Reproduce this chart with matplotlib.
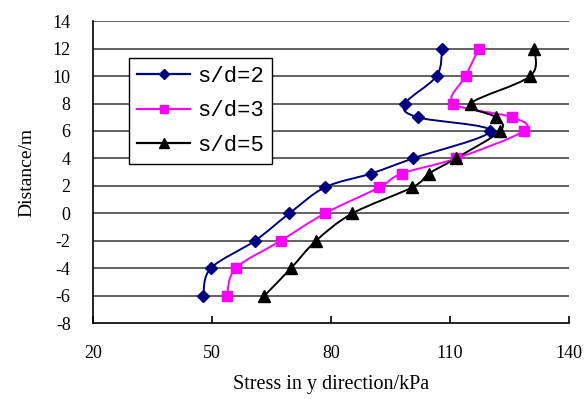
import matplotlib
matplotlib.use("Agg")
import matplotlib.pyplot as plt
import numpy as np
from matplotlib.path import Path
from matplotlib.patches import PathPatch
from matplotlib.lines import Line2D

plt.rcParams['font.family'] = ['Liberation Serif', 'DejaVu Serif']
plt.rcParams['axes.unicode_minus'] = False

# dados
distancia = [12, 10, 8, 7, 6, 4, 2.9, 1.9, 0, -2, -4, -6]
tensao_sd2 = [108.0, 106.6, 98.7, 101.8, 120.1, 100.6, 90.1, 78.5, 69.5, 60.8, 49.7, 47.8]
tensao_sd3 = [117.3, 113.9, 110.8, 125.7, 128.5, 111.5, 97.8, 92.2, 78.5, 67.3, 56.0, 53.8]
tensao_sd5 = [131.2, 130.2, 115.2, 121.5, 122.6, 111.4, 104.7, 100.5, 85.4, 76.2, 69.9, 63.2]
rotulos = ["s/d=2", "s/d=3", "s/d=5"]

x_ticks = [20, 50, 80, 110, 140]
y_ticks = list(range(-8, 15, 2))


def curva_suave(ax, xs, ys, cor):
    # linha suavizada (estilo Excel) com curvas de Bezier
    p = np.column_stack([xs, ys]).astype(float)
    n = len(p)
    verts = [p[0]]
    codes = [Path.MOVETO]
    for i in range(n - 1):
        p0 = p[i - 1] if i > 0 else p[i]
        p3 = p[i + 2] if i + 2 < n else p[i + 1]
        c1 = p[i] + (p[i + 1] - p0) / 6.0
        c2 = p[i + 1] - (p3 - p[i]) / 6.0
        verts += [c1, c2, p[i + 1]]
        codes += [Path.CURVE4] * 3
    patch = PathPatch(Path(verts, codes), facecolor="none", edgecolor=cor,
                      linewidth=1.4, zorder=3)
    ax.add_patch(patch)


fig = plt.figure(figsize=(5.88, 3.99), dpi=100)
ax = fig.add_axes([0.158, 0.190, 0.810, 0.757])

series = [
    (tensao_sd2, "#000080", "D", 6),
    (tensao_sd3, "#FF00FF", "s", 7),
    (tensao_sd5, "#000000", "^", 8),
]
handles = []
for (vals, cor, mk, ms), rot in zip(series, rotulos):
    curva_suave(ax, vals, distancia, cor)
    ax.plot(vals, distancia, linestyle="none", marker=mk, markersize=ms,
            color=cor, zorder=4)
    handles.append(Line2D([0], [0], color=cor, marker=mk, markersize=ms - 1,
                          linewidth=1.6, label=rot))

ax.set_xlim(20, 140)
ax.set_ylim(-8, 14)
ax.set_xticks(x_ticks)
ax.set_yticks(y_ticks)
for y in y_ticks[1:]:
    ax.axhline(y, color="#555555", linewidth=1.3, zorder=1)

ax.spines["top"].set_visible(False)
ax.spines["right"].set_visible(False)
ax.spines["left"].set_linewidth(1.2)
ax.spines["bottom"].set_linewidth(1.2)
ax.tick_params(axis="x", direction="in", length=5, width=1.2, pad=16,
               labelsize=13)
ax.tick_params(axis="y", length=0, pad=16, labelsize=13)

ax.set_xlabel("Stress in y direction/kPa", fontsize=14.5, labelpad=9)
ax.set_ylabel("Distance/m", fontsize=14, labelpad=12)

leg = ax.legend(handles=handles, loc="upper left",
                bbox_to_anchor=(0.076, 0.877), frameon=True,
                prop={"family": "Liberation Mono", "size": 16},
                fancybox=False, edgecolor="black", framealpha=1,
                handlelength=2.4, handletextpad=0.3, borderpad=0.35,
                labelspacing=0.6, borderaxespad=0)
leg.get_frame().set_linewidth(1.0)
leg.set_zorder(5)

plt.savefig("out.png", dpi=100)
